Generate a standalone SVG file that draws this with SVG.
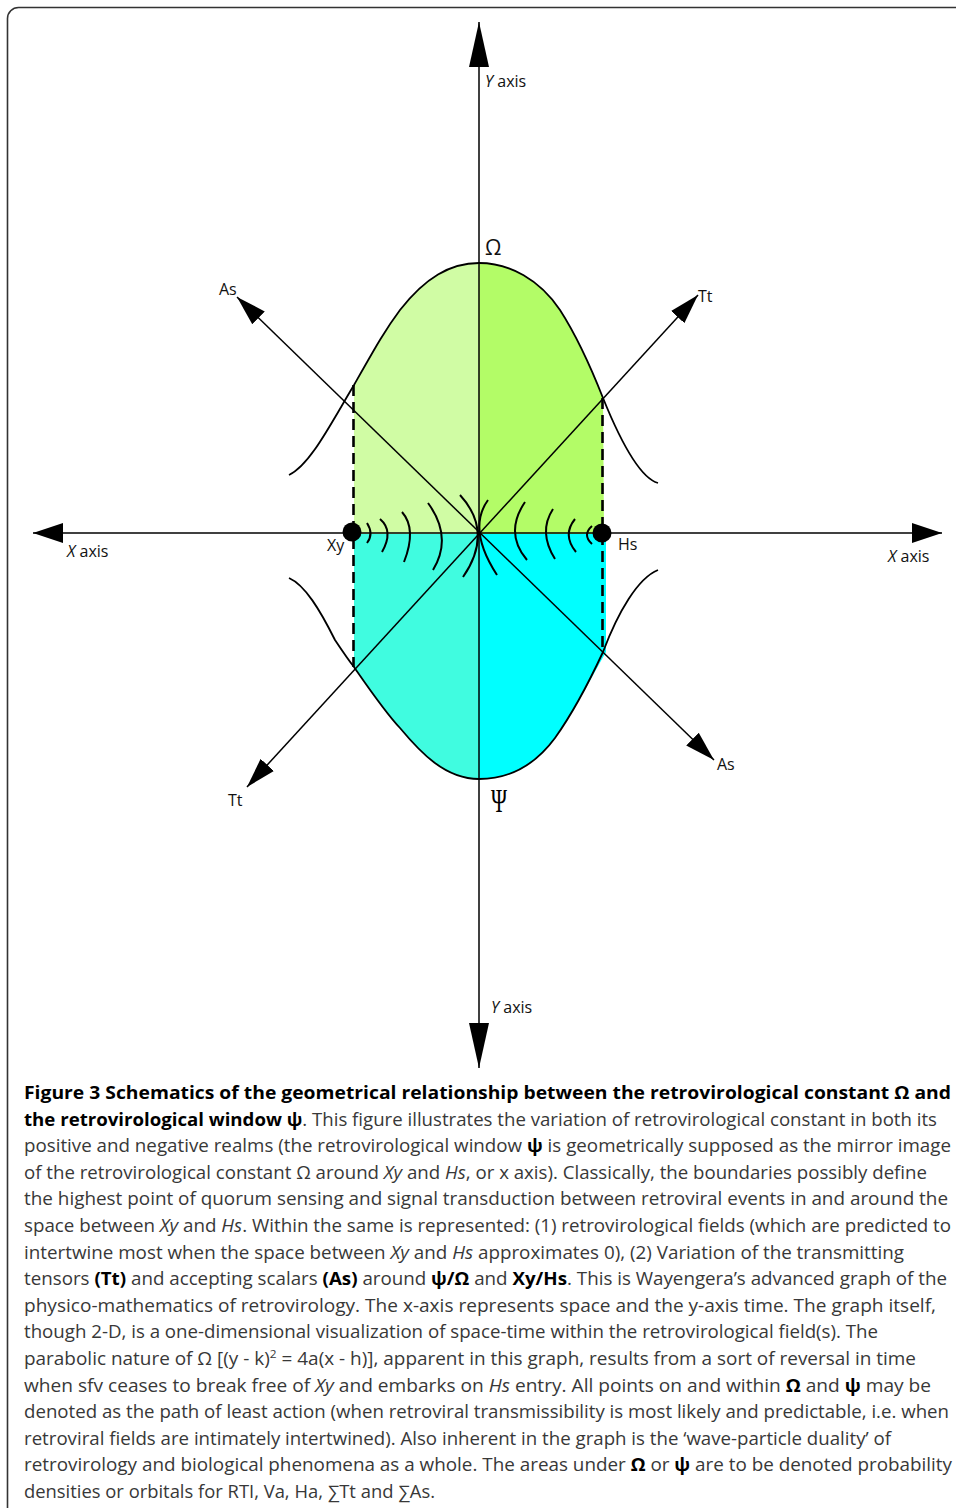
<svg xmlns="http://www.w3.org/2000/svg" width="956" height="1508" viewBox="0 0 956 1508">
<style>
.ln{fill:none;stroke:#000;stroke-width:1.5}
.crv{fill:none;stroke:#000;stroke-width:1.8}
.arc{fill:none;stroke:#000;stroke-width:2}
.dash{fill:none;stroke:#000;stroke-width:2.6;stroke-dasharray:11 6}
.lbl{font-family:"Open Sans","Liberation Sans",sans-serif;font-size:16px;fill:#111}
.cap{font-family:"Open Sans","Liberation Sans","DejaVu Sans",sans-serif;font-size:17.5px;fill:#383838}
.b{font-weight:bold;fill:#000}
.i{font-style:italic}
</style>
<defs>
<marker id="ahY" markerUnits="userSpaceOnUse" markerWidth="46" markerHeight="22" viewBox="0 0 46 22" refX="45" refY="11" orient="auto-start-reverse"><path d="M0,1 L45,11 L0,21 Z" fill="#000"/></marker>
<marker id="ahX" markerUnits="userSpaceOnUse" markerWidth="31" markerHeight="22" viewBox="0 0 31 22" refX="30" refY="11" orient="auto-start-reverse"><path d="M0,1 L30,11 L0,21 Z" fill="#000"/></marker>
<marker id="ahD" markerUnits="userSpaceOnUse" markerWidth="31" markerHeight="20" viewBox="0 0 31 20" refX="30" refY="10" orient="auto-start-reverse"><path d="M0,1 L30,10 L0,19 Z" fill="#000"/></marker>
</defs>
<rect x="7.5" y="7.5" width="1000" height="1600" rx="11" fill="#fff" stroke="#333" stroke-width="1.6"/>

<g id="areas">
<path id="omega-left" d="M354,534 L354,385 C375,348 385,330 400,310 C425,278 450,263 479,263 L479,534 Z" fill="#d0fca4"/>
<path id="omega-right" d="M479,534 L479,263 C510,263 540,280 560,310 C578,338 590,365 603,398 L604,534 Z" fill="#b3fc67"/>
<path id="psi-left" d="M354,534 L354,667 C370,690 385,712 400,728 C420,752 445,779 479,779 L479,534 Z" fill="#40fce0"/>
<path id="psi-right" d="M479,534 L479,779 C510,779 535,765 555,738 C575,710 590,680 606,652 L606,534 Z" fill="#00ffff"/>
</g>

<g id="curves">
<path id="omega-curve" class="crv" d="M289,475 C310,465 330,425 354,385 C375,348 385,330 400,310 C425,278 450,263 479,263 C510,263 540,280 560,310 C578,338 590,365 603,398 C620,440 640,478 658,483"/>
<path id="psi-curve" class="crv" d="M289,578 C305,585 320,610 335,640 C345,655 350,662 354,667 C370,690 385,712 400,728 C420,752 445,779 479,779 C510,779 535,765 555,738 C575,710 590,680 603,652 C618,612 638,578 658,570"/>
<path class="dash" d="M353.5,385 L353.5,667"/>
<path class="dash" d="M602.5,398 L602.5,652"/>
</g>

<g id="connectors">
<path id="y-axis" class="ln" d="M479,22 L479,1068" marker-start="url(#ahY)" marker-end="url(#ahY)"/>
<path id="x-axis" class="ln" d="M33,533 L942,533" marker-start="url(#ahX)" marker-end="url(#ahX)"/>
<path id="as-line" class="ln" d="M237,297 L714,760" marker-start="url(#ahD)" marker-end="url(#ahD)"/>
<path id="tt-line" class="ln" d="M698,295 L247,787" marker-start="url(#ahD)" marker-end="url(#ahD)"/>
</g>

<g id="fields">
<path class="arc" d="M367,523 Q374,534 367,543"/>
<path class="arc" d="M380,519 Q394,531 382,552"/>
<path class="arc" d="M402,512 Q417,529 404,562"/>
<path class="arc" d="M428,503 Q453,537 433,570"/>
<path class="arc" d="M460,495 Q494,532 463,577"/>
<path class="arc" d="M488,500 Q467,529 497,575"/>
<path class="arc" d="M525,502 Q504,533 527,560"/>
<path class="arc" d="M553,509 Q538,532 555,559"/>
<path class="arc" d="M575,519 Q562,535 576,552"/>
<path class="arc" d="M592,526 Q582,535 592,544"/>
</g>

<g id="node-xy"><circle cx="352" cy="532" r="9.5" fill="#000"/><text class="lbl" x="327" y="551">Xy</text></g>
<g id="node-hs"><circle cx="602" cy="533" r="9.5" fill="#000"/><text class="lbl" x="618" y="550">Hs</text></g>

<g id="labels">
<text class="lbl" x="485" y="87"><tspan class="i">Y</tspan> axis</text>
<text class="lbl" x="491" y="1013"><tspan class="i">Y</tspan> axis</text>
<text class="lbl" x="67" y="557"><tspan class="i">X</tspan> axis</text>
<text class="lbl" x="888" y="562"><tspan class="i">X</tspan> axis</text>
<text class="lbl" x="219" y="295">As</text>
<text class="lbl" x="698" y="302">Tt</text>
<text class="lbl" x="228" y="806">Tt</text>
<text class="lbl" x="717" y="770">As</text>
<text class="lbl" x="485" y="255" style="font-size:21px">Ω</text>
<text x="491" y="812" style="font-family:'Liberation Serif',serif;font-size:34px" textLength="16" lengthAdjust="spacingAndGlyphs">Ψ</text>
</g>

<g id="caption">
<text class="cap" x="24" y="1099" textLength="927" lengthAdjust="spacingAndGlyphs"><tspan class="b">Figure 3 Schematics of the geometrical relationship between the retrovirological constant Ω and</tspan></text>
<text class="cap" x="24" y="1125.6" textLength="913" lengthAdjust="spacingAndGlyphs"><tspan class="b">the retrovirological window ψ</tspan>. This figure illustrates the variation of retrovirological constant in both its</text>
<text class="cap" x="24" y="1152.2" textLength="927" lengthAdjust="spacingAndGlyphs">positive and negative realms (the retrovirological window <tspan class="b">ψ</tspan> is geometrically supposed as the mirror image</text>
<text class="cap" x="24" y="1178.8" textLength="903" lengthAdjust="spacingAndGlyphs">of the retrovirological constant Ω around <tspan class="i">Xy</tspan> and <tspan class="i">Hs</tspan>, or x axis). Classically, the boundaries possibly define</text>
<text class="cap" x="24" y="1205.4" textLength="924" lengthAdjust="spacingAndGlyphs">the highest point of quorum sensing and signal transduction between retroviral events in and around the</text>
<text class="cap" x="24" y="1232" textLength="927" lengthAdjust="spacingAndGlyphs">space between <tspan class="i">Xy</tspan> and <tspan class="i">Hs</tspan>. Within the same is represented: (1) retrovirological fields (which are predicted to</text>
<text class="cap" x="24" y="1258.6" textLength="880" lengthAdjust="spacingAndGlyphs">intertwine most when the space between <tspan class="i">Xy</tspan> and <tspan class="i">Hs</tspan> approximates 0), (2) Variation of the transmitting</text>
<text class="cap" x="24" y="1285.2" textLength="923" lengthAdjust="spacingAndGlyphs">tensors <tspan class="b">(Tt)</tspan> and accepting scalars <tspan class="b">(As)</tspan> around <tspan class="b">ψ/Ω</tspan> and <tspan class="b">Xy/Hs</tspan>. This is Wayengera’s advanced graph of the</text>
<text class="cap" x="24" y="1311.8" textLength="912" lengthAdjust="spacingAndGlyphs">physico-mathematics of retrovirology. The x-axis represents space and the y-axis time. The graph itself,</text>
<text class="cap" x="24" y="1338.4" textLength="854" lengthAdjust="spacingAndGlyphs">though 2-D, is a one-dimensional visualization of space-time within the retrovirological field(s). The</text>
<text class="cap" x="24" y="1365" textLength="892" lengthAdjust="spacingAndGlyphs">parabolic nature of Ω [(y - k)<tspan dy="-7" style="font-size:11px">2</tspan><tspan dy="7"> = 4a(x - h)], apparent in this graph, results from a sort of reversal in time</tspan></text>
<text class="cap" x="24" y="1391.6" textLength="907" lengthAdjust="spacingAndGlyphs">when sfv ceases to break free of <tspan class="i">Xy</tspan> and embarks on <tspan class="i">Hs</tspan> entry. All points on and within <tspan class="b">Ω</tspan> and <tspan class="b">ψ</tspan> may be</text>
<text class="cap" x="24" y="1418.2" textLength="925" lengthAdjust="spacingAndGlyphs">denoted as the path of least action (when retroviral transmissibility is most likely and predictable, i.e. when</text>
<text class="cap" x="24" y="1444.8" textLength="867" lengthAdjust="spacingAndGlyphs">retroviral fields are intimately intertwined). Also inherent in the graph is the ‘wave-particle duality’ of</text>
<text class="cap" x="24" y="1471.4" textLength="928" lengthAdjust="spacingAndGlyphs">retrovirology and biological phenomena as a whole. The areas under <tspan class="b">Ω</tspan> or <tspan class="b">ψ</tspan> are to be denoted probability</text>
<text class="cap" x="24" y="1498" textLength="411" lengthAdjust="spacingAndGlyphs">densities or orbitals for RTI, Va, Ha, ∑Tt and ∑As.</text>
</g>
</svg>
